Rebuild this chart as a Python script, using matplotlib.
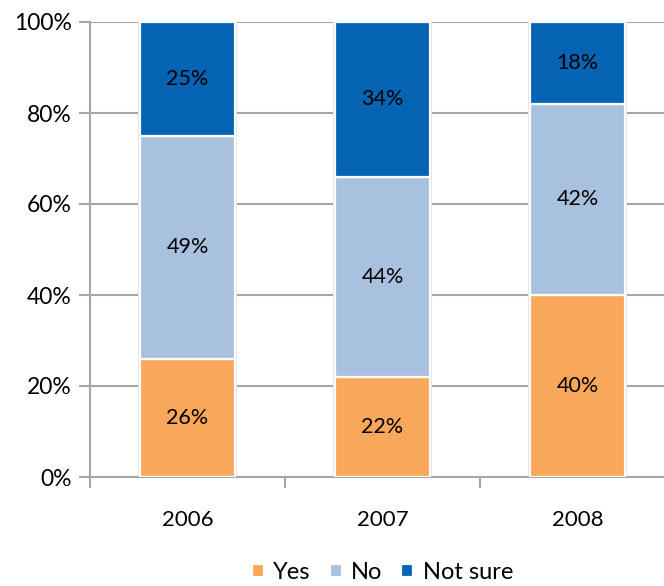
import numpy as np
from matplotlib import pyplot as plt

years = ['2006', '2007', '2008']
yes = [26, 22, 40]
no = [49, 44, 42]
not_sure = [25, 34, 18]

series = [('Yes', yes, '#F9A75A'),
          ('No', no, '#A8C1DF'),
          ('Not sure', not_sure, '#0563B3')]

plt.rcParams['font.family'] = ['Lato', 'DejaVu Sans']
GRID = '#A6A6A6'

fig = plt.figure(figsize=(6.64, 5.86), dpi=100)
# plot area runs a little past the right edge of the figure
ax = fig.add_axes([90 / 664, 1 - 477 / 586, 585 / 664, 455 / 586])

x = np.arange(len(years))
width = 0.49
bottom = np.zeros(len(years))
for name, vals, color in series:
    vals = np.array(vals, dtype=float)
    # faint shadow behind each segment
    ax.bar(x, vals, width + 0.02, bottom=bottom, color='#E4E4E4',
           edgecolor='none', zorder=2)
    ax.bar(x, vals, width, bottom=bottom, color=color, edgecolor='white',
           linewidth=1.6, label=name, zorder=3)
    for xi, b, v in zip(x, bottom, vals):
        ax.text(xi, b + v / 2, '{0:d}%'.format(int(v)), ha='center',
                va='center', fontsize=15.5, color='black', zorder=4)
    bottom += vals

ax.set_xlim(-0.5, 2.5)
ax.set_ylim(0, 100)
ax.set_yticks(np.arange(0, 101, 20))
ax.set_yticklabels(['{0}%'.format(v) for v in range(0, 101, 20)], fontsize=16.5)
ax.set_xticks(x)
ax.set_xticklabels(years, fontsize=16)
ax.tick_params(axis='x', length=0, pad=24)
ax.set_xticks([-0.5, 0.5, 1.5, 2.5], minor=True)
ax.tick_params(axis='x', which='minor', length=8, width=1.5, color=GRID)
ax.tick_params(axis='y', length=8, width=1.5, color=GRID, pad=5)
ax.grid(True, axis='y', color=GRID, linewidth=1.5, zorder=0)
ax.set_axisbelow(True)
for side in ('top', 'right'):
    ax.spines[side].set_visible(False)
for side in ('left', 'bottom'):
    ax.spines[side].set_color(GRID)
    ax.spines[side].set_linewidth(1.5)

ax.legend(loc='center', bbox_to_anchor=(0.5, -0.21), ncol=3, frameon=False,
          fontsize=17, handlelength=0.5, handleheight=0.5,
          handletextpad=0.4, columnspacing=0.8)

fig.savefig('out.png', dpi=100)
